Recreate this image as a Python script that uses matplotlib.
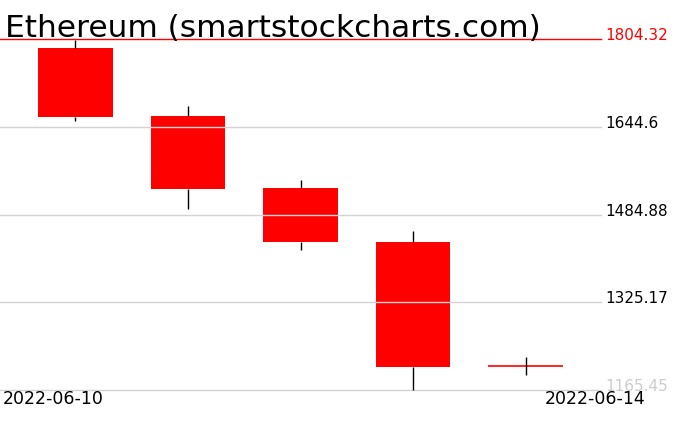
import matplotlib
matplotlib.use("Agg")
import matplotlib.pyplot as plt

# daily candles
dates = ["2022-06-10", "2022-06-11", "2022-06-12", "2022-06-13", "2022-06-14"]
opens = [1787.9, 1663.7, 1532.3, 1435.6, 1209.2]
highs = [1802.0, 1682.0, 1546.9, 1455.6, 1226.2]
lows = [1655.2, 1494.5, 1420.9, 1165.45, 1193.3]
closes = [1661.9, 1531.0, 1434.3, 1207.9, 1209.2]

levels = [1804.32, 1644.6, 1484.88, 1325.17, 1165.45]
level_labels = ["1804.32", "1644.6", "1484.88", "1325.17", "1165.45"]
level_colors = ["#ff0000", "#000000", "#000000", "#000000", "#cccccc"]

title = "Ethereum (smartstockcharts.com)"

W, H = 676, 431
fig = plt.figure(figsize=(W / 100, H / 100), dpi=100)
top_px, bot_px, right_px = 40, 391, 601
ax = fig.add_axes([0, 1 - bot_px / H, right_px / W, (bot_px - top_px) / H])
ax.set_axis_off()

x = list(range(len(dates)))
ax.set_xlim(-0.671, len(dates) - 1 + 0.671)
ax.set_ylim(levels[-1], levels[0])

width = 0.665
for i in x:
    o, h, l, c = opens[i], highs[i], lows[i], closes[i]
    lo, hi = min(o, c), max(o, c)
    if hi - lo < 1:
        ax.hlines(o, i - width / 2, i + width / 2, color="#ff0000", lw=1.2, zorder=3)
    else:
        ax.bar(i, hi - lo, bottom=lo, width=width, color="#ff0000", lw=0, zorder=3)
    ax.vlines(i, hi, h, color="black", lw=1, zorder=5, clip_on=False)
    ax.vlines(i, l, lo, color="black", lw=1, zorder=5, clip_on=False)

for lev, lab, col in zip(levels, level_labels, level_colors):
    line_col = "#ff0000" if col == "#ff0000" else "#d3d3d3"
    ax.axhline(lev, color=line_col, lw=1, zorder=4, clip_on=False)
    ax.text(1.0066, lev, lab, transform=ax.get_yaxis_transform(),
            color=col, fontsize=11, ha="left", va="baseline")

fig.text(5 / W, 1 - 37 / H, title, fontsize=22.5, ha="left", va="baseline")
fig.text(3 / W, 1 - 390 / H, dates[0], fontsize=12.5, ha="left", va="top")
fig.text(646 / W, 1 - 390 / H, dates[-1], fontsize=12.5, ha="right", va="top")

fig.savefig("out.png", dpi=100)
